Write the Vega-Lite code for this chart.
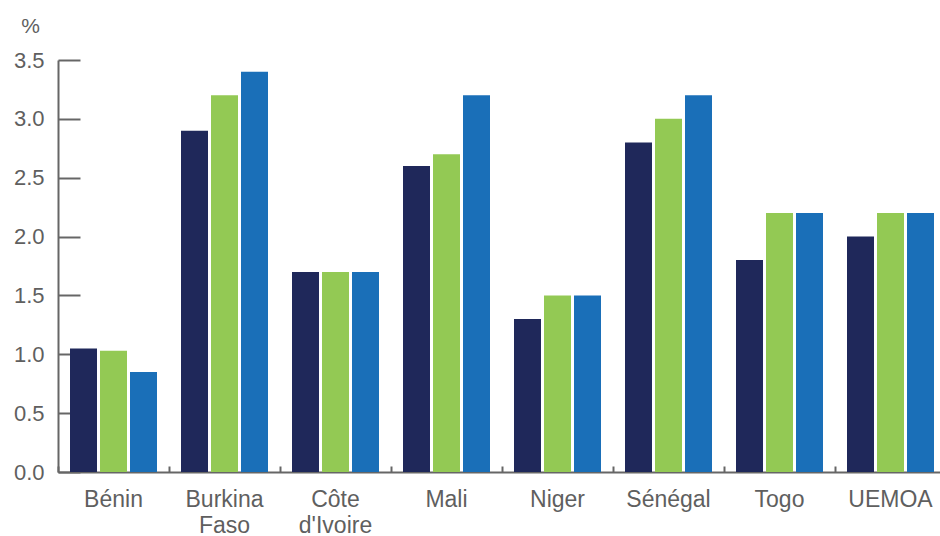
{
  "$schema": "https://vega.github.io/schema/vega-lite/v6.json",
  "autosize": "none",
  "width": 882,
  "height": 412,
  "padding": {"left": 58, "top": 60, "right": 0, "bottom": 64},
  "background": "white",
  "config": {"view": {"stroke": null}, "font": "Liberation Sans"},
  "data": {"values": [
    {"pays": "Bénin", "serie": "A", "valeur": 1.05},
    {"pays": "Bénin", "serie": "B", "valeur": 1.03},
    {"pays": "Bénin", "serie": "C", "valeur": 0.85},
    {"pays": "Burkina Faso", "serie": "A", "valeur": 2.9},
    {"pays": "Burkina Faso", "serie": "B", "valeur": 3.2},
    {"pays": "Burkina Faso", "serie": "C", "valeur": 3.4},
    {"pays": "Côte d'Ivoire", "serie": "A", "valeur": 1.7},
    {"pays": "Côte d'Ivoire", "serie": "B", "valeur": 1.7},
    {"pays": "Côte d'Ivoire", "serie": "C", "valeur": 1.7},
    {"pays": "Mali", "serie": "A", "valeur": 2.6},
    {"pays": "Mali", "serie": "B", "valeur": 2.7},
    {"pays": "Mali", "serie": "C", "valeur": 3.2},
    {"pays": "Niger", "serie": "A", "valeur": 1.3},
    {"pays": "Niger", "serie": "B", "valeur": 1.5},
    {"pays": "Niger", "serie": "C", "valeur": 1.5},
    {"pays": "Sénégal", "serie": "A", "valeur": 2.8},
    {"pays": "Sénégal", "serie": "B", "valeur": 3.0},
    {"pays": "Sénégal", "serie": "C", "valeur": 3.2},
    {"pays": "Togo", "serie": "A", "valeur": 1.8},
    {"pays": "Togo", "serie": "B", "valeur": 2.2},
    {"pays": "Togo", "serie": "C", "valeur": 2.2},
    {"pays": "UEMOA", "serie": "A", "valeur": 2.0},
    {"pays": "UEMOA", "serie": "B", "valeur": 2.2},
    {"pays": "UEMOA", "serie": "C", "valeur": 2.2}
  ]},
  "mark": {"type": "bar"},
  "encoding": {
    "x": {
      "field": "pays", "type": "nominal", "sort": null,
      "scale": {"range": [0, 888], "paddingInner": 0, "paddingOuter": 0},
      "axis": {
        "title": null, "labelAngle": 0, "bandPosition": 0,
        "labelExpr": "split(datum.label, ' ')",
        "labelFontSize": 23, "labelColor": "#5f5f5f", "labelLineHeight": 26,
        "labelPadding": 22, "tickSize": -6, "tickColor": "#666666", "tickWidth": 2,
        "domainColor": "#666666", "domainWidth": 2
      }
    },
    "xOffset": {
      "field": "serie", "type": "nominal",
      "scale": {"paddingInner": 0.1, "paddingOuter": 0.4}
    },
    "y": {
      "field": "valeur", "type": "quantitative",
      "scale": {"domain": [0, 3.5], "nice": false},
      "axis": {
        "values": [0, 0.5, 1, 1.5, 2, 2.5, 3, 3.5],
        "format": ".1f", "grid": false,
        "labelFontSize": 22, "labelColor": "#5f5f5f",
        "labelPadding": 36, "tickSize": -22, "tickColor": "#666666", "tickWidth": 2,
        "domainColor": "#666666", "domainWidth": 2,
        "title": "%", "titleAngle": 0, "titleFontSize": 21, "titleFontWeight": "normal",
        "titleColor": "#5f5f5f", "titleX": -28, "titleY": -34, "titleAlign": "center", "titleBaseline": "middle"
      }
    },
    "color": {
      "field": "serie", "type": "nominal", "legend": null,
      "scale": {"domain": ["A", "B", "C"], "range": ["#1f285a", "#93c954", "#1a6fb8"]}
    }
  }
}
